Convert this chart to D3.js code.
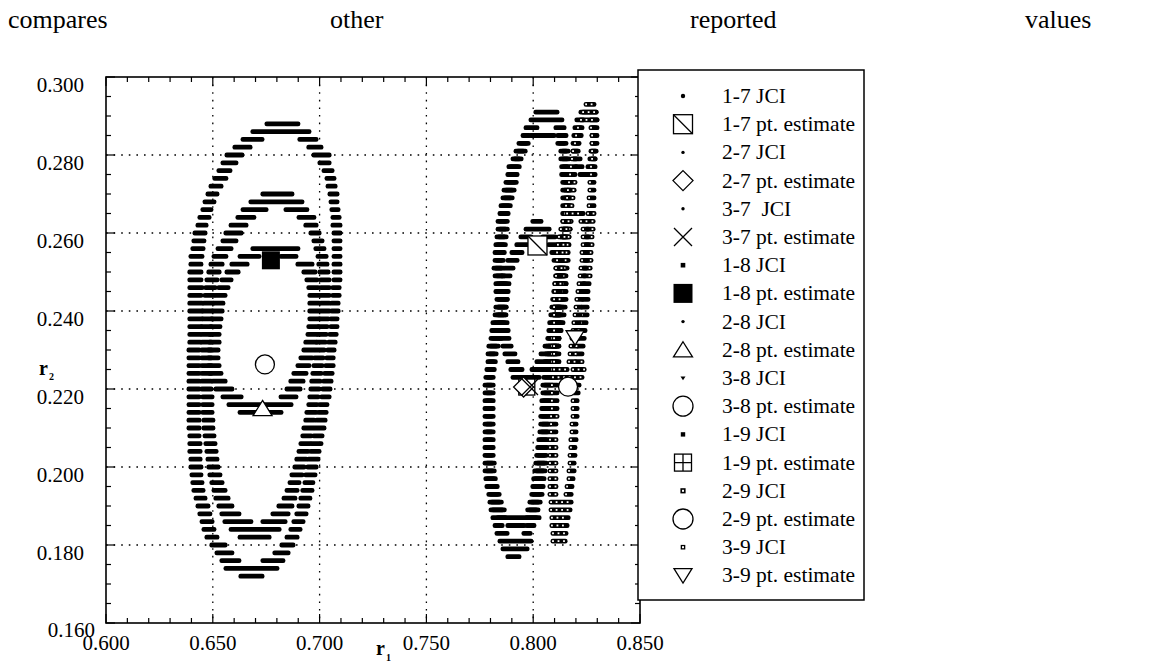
<!DOCTYPE html>
<html><head><meta charset="utf-8">
<script src="https://cdn.jsdelivr.net/npm/d3@7"></script>
<style>
body{margin:0;background:#fff;}
svg{display:block;font-family:"Liberation Serif","Times New Roman",serif;}
</style></head><body>
<svg id="chart" width="1151" height="666"></svg>
<script>
// ---------- text ----------
const captionWords = ["compares", "other", "reported", "values"];
const xTickValues = [0.600, 0.650, 0.700, 0.750, 0.800, 0.850];
const yTickValues = [0.160, 0.180, 0.200, 0.220, 0.240, 0.260, 0.280, 0.300];
const legendLabels = ["1-7 JCI", "1-7 pt. estimate", "2-7 JCI", "2-7 pt. estimate", "3-7  JCI", "3-7 pt. estimate",
  "1-8 JCI", "1-8 pt. estimate", "2-8 JCI", "2-8 pt. estimate", "3-8 JCI", "3-8 pt. estimate",
  "1-9 JCI", "1-9 pt. estimate", "2-9 JCI", "2-9 pt. estimate", "3-9 JCI", "3-9 pt. estimate"];

// ---------- joint confidence regions: rows of [r2, r1 from, r1 to, (r1 from, r1 to)] ----------
const jci_1_8 = [
 [0.288,0.6749,0.6903],[0.286,0.6683,0.6955],
 [0.284,0.6637,0.6735,0.6903,0.6988],[0.282,0.6599,0.6679,0.6945,0.7011],[0.280,0.6562,0.6641,0.6969,0.7049],
 [0.278,0.6543,0.6613,0.6997,0.7049],[0.276,0.6524,0.6585,0.7016,0.7063],[0.274,0.6505,0.6566,0.7030,0.7072],
 [0.272,0.6487,0.6543,0.7035,0.7077],[0.270,0.6473,0.6524,0.7044,0.7086],[0.268,0.6459,0.6510,0.7049,0.7086],
 [0.266,0.6449,0.6496,0.7053,0.7091],[0.264,0.6435,0.6487,0.7058,0.7096],[0.262,0.6426,0.6473,0.7058,0.7100],
 [0.260,0.6412,0.6468,0.7063,0.7100],[0.258,0.6407,0.6463,0.7063,0.7100],[0.256,0.6402,0.6459,0.7063,0.7100],
 [0.254,0.6393,0.6454,0.7063,0.7100],[0.252,0.6393,0.6449,0.7063,0.7100],[0.250,0.6388,0.6449,0.7063,0.7100],
 [0.248,0.6388,0.6449,0.7063,0.7100],[0.246,0.6388,0.6454,0.7058,0.7096],[0.244,0.6388,0.6449,0.7058,0.7096],
 [0.242,0.6388,0.6454,0.7053,0.7091],[0.240,0.6388,0.6454,0.7053,0.7091],[0.238,0.6388,0.6454,0.7049,0.7086],
 [0.236,0.6388,0.6449,0.7049,0.7086],[0.234,0.6388,0.6445,0.7044,0.7082],[0.232,0.6388,0.6445,0.7039,0.7077],
 [0.230,0.6384,0.6440,0.7035,0.7072],[0.228,0.6384,0.6440,0.7030,0.7068],[0.226,0.6384,0.6440,0.7025,0.7068],
 [0.224,0.6384,0.6440,0.7020,0.7063],[0.222,0.6384,0.6440,0.7016,0.7058],[0.220,0.6384,0.6440,0.7011,0.7053],
 [0.218,0.6384,0.6440,0.7006,0.7049],[0.216,0.6384,0.6440,0.6997,0.7039],[0.214,0.6384,0.6440,0.6992,0.7035],
 [0.212,0.6384,0.6440,0.6983,0.7030],[0.210,0.6384,0.6440,0.6973,0.7025],[0.208,0.6388,0.6440,0.6969,0.7016],
 [0.206,0.6388,0.6445,0.6959,0.7011],[0.204,0.6388,0.6445,0.6955,0.7002],[0.202,0.6393,0.6445,0.6945,0.6997],
 [0.200,0.6393,0.6449,0.6941,0.6988],[0.198,0.6398,0.6449,0.6931,0.6983],[0.196,0.6402,0.6454,0.6927,0.6973],
 [0.194,0.6407,0.6459,0.6917,0.6969],[0.192,0.6417,0.6468,0.6908,0.6959],[0.190,0.6426,0.6482,0.6899,0.6950],
 [0.188,0.6435,0.6491,0.6889,0.6941],[0.186,0.6445,0.6501,0.6875,0.6927],[0.184,0.6454,0.6510,0.6861,0.6913],
 [0.182,0.6468,0.6524,0.6843,0.6899],[0.180,0.6491,0.6562,0.6819,0.6880],[0.178,0.6515,0.6594,0.6786,0.6857],
 [0.176,0.6538,0.6627,0.6730,0.6833],[0.174,0.6557,0.6805],[0.172,0.6627,0.6735]
];
const jci_3_8 = [
 [0.270,0.6730,0.6875],[0.268,0.6674,0.6922],
 [0.266,0.6637,0.6754,0.6838,0.6945],[0.264,0.6613,0.6697,0.6899,0.6978],[0.262,0.6581,0.6660,0.6931,0.6988],
 [0.260,0.6557,0.6637,0.6955,0.7002],[0.258,0.6543,0.6613,0.6969,0.7016],[0.256,0.6520,0.6590,0.6978,0.7025],
 [0.254,0.6501,0.6566,0.6988,0.7035],[0.252,0.6487,0.6548,0.6992,0.7039],[0.250,0.6477,0.6534,0.6997,0.7044],
 [0.248,0.6468,0.6524,0.7002,0.7049],[0.246,0.6463,0.6515,0.7002,0.7049],[0.244,0.6459,0.6510,0.7002,0.7049],
 [0.242,0.6454,0.6505,0.7002,0.7049],[0.240,0.6449,0.6501,0.7002,0.7049],[0.238,0.6449,0.6501,0.6997,0.7044],
 [0.236,0.6445,0.6496,0.6992,0.7039],[0.234,0.6445,0.6496,0.6988,0.7035],[0.232,0.6445,0.6496,0.6983,0.7030],
 [0.230,0.6445,0.6496,0.6978,0.7025],[0.228,0.6445,0.6496,0.6973,0.7020],[0.226,0.6445,0.6496,0.6969,0.7016],
 [0.224,0.6445,0.6496,0.6964,0.7011],[0.222,0.6445,0.6496,0.6959,0.7006],[0.220,0.6445,0.6496,0.6955,0.7002],
 [0.218,0.6449,0.6501,0.6950,0.6997],[0.216,0.6449,0.6501,0.6945,0.6992],[0.214,0.6449,0.6501,0.6936,0.6988],
 [0.212,0.6454,0.6505,0.6931,0.6978],[0.210,0.6454,0.6505,0.6922,0.6973],[0.208,0.6459,0.6510,0.6917,0.6964],
 [0.206,0.6463,0.6515,0.6908,0.6959],[0.204,0.6468,0.6520,0.6899,0.6950],[0.202,0.6473,0.6524,0.6889,0.6941],
 [0.200,0.6477,0.6529,0.6880,0.6931],[0.198,0.6482,0.6538,0.6866,0.6922],[0.196,0.6491,0.6548,0.6857,0.6908],
 [0.194,0.6501,0.6562,0.6843,0.6899],[0.192,0.6510,0.6576,0.6829,0.6889],[0.190,0.6524,0.6594,0.6805,0.6875],
 [0.188,0.6538,0.6627,0.6777,0.6857],[0.186,0.6552,0.6683,0.6730,0.6843],[0.184,0.6581,0.6815],[0.182,0.6623,0.6768]
];
const jci_2_8 = [
 [0.256,0.6683,0.6903],[0.254,0.6623,0.6721,0.6815,0.6894],[0.252,0.6585,0.6665,0.6894,0.6969],
 [0.250,0.6562,0.6623,0.6922,0.6983],[0.248,0.6538,0.6590,0.6936,0.6992],[0.246,0.6524,0.6576,0.6945,0.6997],
 [0.244,0.6510,0.6562,0.6950,0.7002],[0.242,0.6501,0.6552,0.6950,0.7002],[0.240,0.6496,0.6548,0.6950,0.7002],
 [0.238,0.6491,0.6543,0.6950,0.7002],[0.236,0.6487,0.6538,0.6945,0.6997],[0.234,0.6482,0.6534,0.6941,0.6992],
 [0.232,0.6482,0.6534,0.6931,0.6988],[0.230,0.6477,0.6529,0.6922,0.6978],[0.228,0.6477,0.6529,0.6908,0.6969],
 [0.226,0.6477,0.6534,0.6894,0.6955],[0.224,0.6482,0.6543,0.6875,0.6941],[0.222,0.6496,0.6562,0.6861,0.6927],
 [0.220,0.6510,0.6594,0.6843,0.6913],[0.218,0.6543,0.6637,0.6815,0.6894],[0.216,0.6571,0.6871],[0.214,0.6623,0.6824]
];
const jci_1_7 = [
 [0.291,0.8008,0.8116],[0.289,0.7985,0.8139],
 [0.287,0.7962,0.8022,0.8102,0.8149],[0.285,0.7948,0.7985,0.8111,0.8158],[0.283,0.7929,0.7971,0.8121,0.8158],
 [0.281,0.7915,0.7957,0.8135,0.8168],[0.279,0.7901,0.7938,0.8135,0.8172],[0.277,0.7882,0.7929,0.8139,0.8172],
 [0.275,0.7877,0.7919,0.8139,0.8172],[0.273,0.7868,0.7915,0.8144,0.8177],[0.271,0.7859,0.7905,0.8144,0.8177],
 [0.269,0.7854,0.7896,0.8144,0.8177],[0.267,0.7845,0.7887,0.8144,0.8177],[0.265,0.7840,0.7877,0.8144,0.8177],
 [0.263,0.7831,0.7873,0.8144,0.8177],[0.261,0.7831,0.7873,0.8139,0.8177],[0.259,0.7826,0.7868,0.8135,0.8172],
 [0.257,0.7821,0.7864,0.8135,0.8172],[0.255,0.7817,0.7859,0.8130,0.8168],[0.253,0.7817,0.7854,0.8125,0.8168],
 [0.251,0.7812,0.7854,0.8121,0.8163],[0.249,0.7817,0.7859,0.8111,0.8158],[0.247,0.7821,0.7868,0.8107,0.8158],
 [0.245,0.7821,0.7868,0.8102,0.8154],[0.243,0.7826,0.7873,0.8097,0.8149],[0.241,0.7821,0.7868,0.8093,0.8144],
 [0.239,0.7817,0.7864,0.8088,0.8139],[0.237,0.7807,0.7859,0.8083,0.8135],[0.235,0.7802,0.7854,0.8079,0.8130],
 [0.233,0.7798,0.7845,0.8074,0.8125],[0.231,0.7788,0.7831,0.8069,0.8121],[0.229,0.7784,0.7821,0.8065,0.8111],
 [0.227,0.7784,0.7817,0.8060,0.8107],[0.225,0.7779,0.7812,0.8055,0.8102],[0.223,0.7774,0.7807,0.8055,0.8097],
 [0.221,0.7770,0.7807,0.8051,0.8093],[0.219,0.7770,0.7807,0.8051,0.8093],[0.217,0.7770,0.7807,0.8046,0.8088],
 [0.215,0.7770,0.7807,0.8046,0.8088],[0.213,0.7770,0.7807,0.8041,0.8083],[0.211,0.7770,0.7807,0.8041,0.8083],
 [0.209,0.7770,0.7807,0.8037,0.8079],[0.207,0.7770,0.7807,0.8032,0.8074],[0.205,0.7770,0.7807,0.8027,0.8069],
 [0.203,0.7770,0.7807,0.8022,0.8065],[0.201,0.7770,0.7812,0.8018,0.8065],[0.199,0.7770,0.7812,0.8013,0.8060],
 [0.197,0.7774,0.7817,0.8008,0.8055],[0.195,0.7779,0.7826,0.8004,0.8051],[0.193,0.7788,0.7835,0.7999,0.8046],
 [0.191,0.7793,0.7845,0.7990,0.8037],[0.189,0.7798,0.7859,0.7980,0.8027],[0.187,0.7807,0.7873,0.7966,0.8018],
 [0.185,0.7817,0.7859,0.7966,0.8008],[0.183,0.7826,0.7882,0.7952,0.7990],[0.181,0.7840,0.7994],
 [0.179,0.7854,0.7976],[0.177,0.7877,0.7938]
];
const jci_2_7 = [
 [0.263,0.7994,0.8041],[0.261,0.7962,0.8079],
 [0.259,0.7938,0.7994,0.8041,0.8107],[0.257,0.7919,0.7976,0.8069,0.8121],[0.255,0.7896,0.7952,0.8083,0.8135],
 [0.253,0.7877,0.7929,0.8093,0.8144],[0.251,0.7863,0.7910,0.8102,0.8149],[0.249,0.7849,0.7896,0.8107,0.8154],
 [0.247,0.7845,0.7891,0.8111,0.8158],[0.245,0.7840,0.7887,0.8111,0.8158],[0.243,0.7835,0.7882,0.8111,0.8158],
 [0.241,0.7835,0.7877,0.8107,0.8154],[0.239,0.7835,0.7877,0.8102,0.8149],[0.237,0.7835,0.7882,0.8093,0.8144],
 [0.235,0.7840,0.7887,0.8083,0.8135],[0.233,0.7845,0.7891,0.8069,0.8125],[0.231,0.7854,0.7901,0.8051,0.8111],
 [0.229,0.7863,0.7919,0.8032,0.8088],[0.227,0.7877,0.7933,0.8013,0.8065],[0.225,0.7891,0.7952,0.7990,0.8051],
 [0.223,0.7901,0.8032]
];
const jci_3_7 = [
 [0.285,0.7985,0.8102],
 [0.283,0.7939,0.7981,0.8111,0.8148],[0.281,0.7925,0.7967,0.8125,0.8158],[0.279,0.7911,0.7948,0.8125,0.8162],
 [0.277,0.7892,0.7939,0.8129,0.8162],[0.275,0.7887,0.7929,0.8129,0.8162],[0.273,0.7878,0.7925,0.8134,0.8167],
 [0.271,0.7869,0.7915,0.8134,0.8167],[0.269,0.7864,0.7906,0.8134,0.8167],[0.267,0.7855,0.7897,0.8134,0.8167],
 [0.265,0.7850,0.7887,0.8134,0.8167],[0.263,0.7841,0.7883,0.8134,0.8167],[0.261,0.7841,0.7883,0.8129,0.8167],
 [0.259,0.7836,0.7878,0.8125,0.8162],[0.257,0.7831,0.7874,0.8125,0.8162],[0.255,0.7827,0.7869,0.8120,0.8158],
 [0.253,0.7827,0.7864,0.8115,0.8158],[0.251,0.7822,0.7864,0.8111,0.8153],[0.249,0.7827,0.7869,0.8101,0.8148],
 [0.247,0.7831,0.7878,0.8097,0.8148],[0.245,0.7831,0.7878,0.8092,0.8144],[0.243,0.7836,0.7883,0.8087,0.8139],
 [0.241,0.7831,0.7878,0.8083,0.8134],[0.239,0.7827,0.7874,0.8078,0.8129],[0.237,0.7817,0.7869,0.8073,0.8125],
 [0.235,0.7812,0.7864,0.8069,0.8120],[0.233,0.7808,0.7855,0.8064,0.8115],[0.231,0.7798,0.7841,0.8059,0.8111],
 [0.229,0.7794,0.7831,0.8055,0.8101],[0.227,0.7794,0.7827,0.8050,0.8097],[0.225,0.7789,0.7822,0.8045,0.8092],
 [0.223,0.7784,0.7817,0.8045,0.8087],[0.221,0.7780,0.7817,0.8041,0.8083],[0.219,0.7780,0.7817,0.8041,0.8083],
 [0.217,0.7780,0.7817,0.8036,0.8078],[0.215,0.7780,0.7817,0.8036,0.8078],[0.213,0.7780,0.7817,0.8031,0.8073],
 [0.211,0.7780,0.7817,0.8031,0.8073],[0.209,0.7780,0.7817,0.8027,0.8069],[0.207,0.7780,0.7817,0.8022,0.8064],
 [0.205,0.7780,0.7817,0.8017,0.8059],[0.203,0.7780,0.7817,0.8012,0.8055],[0.201,0.7780,0.7822,0.8008,0.8055],
 [0.199,0.7780,0.7822,0.8003,0.8050],[0.197,0.7784,0.7827,0.7998,0.8045],[0.195,0.7789,0.7836,0.7994,0.8041],
 [0.193,0.7798,0.7845,0.7989,0.8036],[0.191,0.7803,0.7855,0.7980,0.8027],[0.189,0.7808,0.7869,0.7970,0.8017],
 [0.187,0.7831,0.8032],[0.185,0.7877,0.7962]
];
const jci_1_9 = [
 [0.291,0.8219,0.8299],[0.289,0.8200,0.8238,0.8266,0.8303],[0.287,0.8191,0.8224,0.8271,0.8303],
 [0.285,0.8186,0.8219,0.8271,0.8303],[0.283,0.8182,0.8215,0.8271,0.8303],[0.281,0.8182,0.8215,0.8266,0.8299],
 [0.279,0.8186,0.8224,0.8261,0.8294],[0.277,0.8196,0.8233,0.8252,0.8285],[0.275,0.8215,0.8271]
];
const jci_2_9 = [
 [0.293,0.8243,0.8289],[0.291,0.8229,0.8299],[0.289,0.8219,0.8303],
 [0.287,0.8205,0.8233,0.8266,0.8294],[0.285,0.8196,0.8229,0.8271,0.8294],[0.283,0.8191,0.8219,0.8271,0.8294],
 [0.281,0.8182,0.8210,0.8271,0.8294],[0.279,0.8177,0.8205,0.8271,0.8294],[0.277,0.8172,0.8205,0.8266,0.8294],
 [0.275,0.8168,0.8200,0.8266,0.8294],[0.273,0.8163,0.8200,0.8261,0.8289],[0.271,0.8158,0.8196,0.8261,0.8289],
 [0.269,0.8154,0.8191,0.8257,0.8289],[0.267,0.8149,0.8186,0.8257,0.8289],[0.265,0.8144,0.8182,0.8252,0.8289],
 [0.263,0.8144,0.8182,0.8247,0.8285],[0.261,0.8139,0.8177,0.8247,0.8285],[0.259,0.8135,0.8172,0.8243,0.8280],
 [0.257,0.8130,0.8168,0.8243,0.8280],[0.255,0.8125,0.8163,0.8238,0.8275],[0.253,0.8121,0.8158,0.8238,0.8275],
 [0.251,0.8116,0.8154,0.8233,0.8271],[0.249,0.8111,0.8149,0.8233,0.8271],[0.247,0.8107,0.8144,0.8233,0.8266],
 [0.245,0.8102,0.8139,0.8229,0.8261],[0.243,0.8097,0.8135,0.8229,0.8261],[0.241,0.8093,0.8130,0.8224,0.8257],
 [0.239,0.8093,0.8130,0.8224,0.8257],[0.237,0.8088,0.8125,0.8219,0.8252],[0.235,0.8088,0.8125,0.8215,0.8247],
 [0.233,0.8083,0.8121,0.8210,0.8243],[0.231,0.8083,0.8121,0.8205,0.8238],[0.229,0.8083,0.8116,0.8200,0.8233],
 [0.227,0.8083,0.8116,0.8196,0.8233],[0.225,0.8083,0.8116,0.8191,0.8229],[0.223,0.8083,0.8116,0.8191,0.8224],
 [0.221,0.8083,0.8116,0.8186,0.8219],[0.219,0.8083,0.8116,0.8182,0.8215],[0.217,0.8083,0.8116,0.8182,0.8210],
 [0.215,0.8083,0.8116,0.8182,0.8210],[0.213,0.8079,0.8116,0.8182,0.8210],[0.211,0.8079,0.8111,0.8177,0.8205],
 [0.209,0.8079,0.8111,0.8177,0.8205],[0.207,0.8074,0.8111,0.8172,0.8205],[0.205,0.8074,0.8111,0.8172,0.8200],
 [0.203,0.8074,0.8111,0.8168,0.8200],[0.201,0.8074,0.8111,0.8168,0.8196],[0.199,0.8074,0.8111,0.8163,0.8196],
 [0.197,0.8074,0.8111,0.8163,0.8191],[0.195,0.8074,0.8111,0.8154,0.8186],[0.193,0.8074,0.8111,0.8149,0.8182],
 [0.191,0.8079,0.8182],[0.189,0.8079,0.8177],[0.187,0.8083,0.8168],[0.185,0.8083,0.8163],
 [0.183,0.8088,0.8158],[0.181,0.8088,0.8154]
];
const jci_3_9 = [
 [0.265,0.8154,0.8238],[0.263,0.8135,0.8172,0.8219,0.8257],[0.261,0.8125,0.8163,0.8229,0.8261],
 [0.259,0.8116,0.8154,0.8229,0.8261],[0.257,0.8111,0.8149,0.8229,0.8261],[0.255,0.8107,0.8144,0.8224,0.8257],
 [0.253,0.8107,0.8139,0.8224,0.8257],[0.251,0.8102,0.8139,0.8219,0.8252],[0.249,0.8102,0.8135,0.8215,0.8247],
 [0.247,0.8097,0.8135,0.8210,0.8243],[0.245,0.8097,0.8130,0.8205,0.8238],[0.243,0.8093,0.8130,0.8200,0.8233],
 [0.241,0.8093,0.8125,0.8196,0.8229],[0.239,0.8093,0.8125,0.8191,0.8224],[0.237,0.8093,0.8125,0.8186,0.8219],
 [0.235,0.8093,0.8125,0.8182,0.8219],[0.233,0.8093,0.8125,0.8177,0.8215],[0.231,0.8093,0.8125,0.8172,0.8210],
 [0.229,0.8093,0.8125,0.8168,0.8205],[0.227,0.8093,0.8125,0.8163,0.8200],[0.225,0.8093,0.8163,0.8182,0.8243],
 [0.223,0.8088,0.8233]
];

// ---------- point estimates [r1, r2] ----------
const pt_1_7 = [0.8020, 0.2568];
const pt_2_7 = [0.7955, 0.2205];
const pt_3_7 = [0.7985, 0.2205];
const pt_1_8 = [0.6772, 0.2530];
const pt_2_8 = [0.6733, 0.2150];
const pt_3_8 = [0.6744, 0.2263];
const pt_1_9 = [0.7970, 0.2205];
const pt_2_9 = [0.8163, 0.2206];
const pt_3_9 = [0.8196, 0.2332];

// ---------- layout ----------
const svg = d3.select("#chart");
const plot = {left: 106, right: 640, top: 77, bottom: 623};
const x = d3.scaleLinear().domain([0.6, 0.85]).range([plot.left, plot.right]);
const y = d3.scaleLinear().domain([0.16, 0.30]).range([plot.bottom, plot.top]);

// caption line across the page top
const captionX = [8, 330, 690, 1025];
svg.append("g").selectAll("text").data(captionWords).join("text")
  .attr("x", (d, i) => captionX[i]).attr("y", 28)
  .attr("font-size", 26).text(d => d);

// grid
const grid = svg.append("g").attr("stroke", "#000").attr("stroke-width", 1.3).attr("stroke-dasharray", "1.6,6");
grid.selectAll(".gx").data(xTickValues.slice(1, -1)).join("line")
  .attr("x1", d => x(d)).attr("x2", d => x(d)).attr("y1", plot.top).attr("y2", plot.bottom);
grid.selectAll(".gy").data(yTickValues.slice(1, -1)).join("line")
  .attr("y1", d => y(d)).attr("y2", d => y(d)).attr("x1", plot.left).attr("x2", plot.right);

// minor ticks (inside)
const ticks = svg.append("g").attr("stroke", "#000").attr("stroke-width", 1.2);
const xMinor = d3.range(0, 26).map(i => 0.6 + i * 0.01);
const yMinor = d3.range(0, 29).map(i => 0.16 + i * 0.005);
xMinor.forEach((v, i) => {
  const len = i % 5 === 0 ? 9 : 5;
  ticks.append("line").attr("x1", x(v)).attr("x2", x(v)).attr("y1", plot.bottom).attr("y2", plot.bottom - len);
  ticks.append("line").attr("x1", x(v)).attr("x2", x(v)).attr("y1", plot.top).attr("y2", plot.top + len);
});
yMinor.forEach((v, i) => {
  const len = i % 4 === 0 ? 9 : 5;
  ticks.append("line").attr("y1", y(v)).attr("y2", y(v)).attr("x1", plot.left).attr("x2", plot.left + len);
  ticks.append("line").attr("y1", y(v)).attr("y2", y(v)).attr("x1", plot.right).attr("x2", plot.right - len);
});

// frame
svg.append("rect").attr("x", plot.left).attr("y", plot.top)
  .attr("width", plot.right - plot.left).attr("height", plot.bottom - plot.top)
  .attr("fill", "none").attr("stroke", "#000").attr("stroke-width", 1.6);

// tick labels
svg.append("g").selectAll("text").data(xTickValues).join("text")
  .attr("x", d => x(d)).attr("y", 650).attr("text-anchor", "middle").attr("font-size", 21)
  .text(d => d3.format(".3f")(d));
svg.append("g").selectAll("text").data(yTickValues).join("text")
  .attr("x", (d, i) => i === 0 ? 95 : 84).attr("y", (d, i) => y(d) + (i === 0 ? 14 : 15))
  .attr("text-anchor", "end").attr("font-size", 21)
  .text(d => d3.format(".3f")(d));

// axis titles
const xt = svg.append("text").attr("x", 376).attr("y", 655).attr("font-weight", "bold").attr("font-size", 20);
xt.append("tspan").text("r");
xt.append("tspan").attr("font-size", 10).attr("dx", 1).attr("dy", 6).text("1");
const yt = svg.append("text").attr("x", 39).attr("y", 375).attr("font-weight", "bold").attr("font-size", 20);
yt.append("tspan").text("r");
yt.append("tspan").attr("font-size", 10).attr("dx", 1).attr("dy", 5).text("2");

// ---------- confidence-region marks ----------
const marks = svg.append("g");
function drawRegion(rows, hollow) {
  const segs = [];
  rows.forEach(r => {
    for (let i = 1; i + 1 < r.length; i += 2) segs.push({r2: r[0], a: r[i], b: r[i + 1]});
  });
  const g = marks.append("g");
  g.selectAll("rect").data(segs).join("rect")
    .attr("x", d => x(d.a) - 1.5).attr("width", d => x(d.b) - x(d.a) + 3)
    .attr("y", d => y(d.r2) - 2.4).attr("height", 4.8).attr("rx", 2.2).attr("fill", "#000");
  if (hollow) {
    const holes = [];
    segs.forEach(d => {
      const x0 = x(d.a) + 1, x1 = x(d.b) - 1;
      for (let p = x0; p <= x1 + 0.01; p += 5.5) holes.push({px: p, r2: d.r2});
    });
    g.selectAll("rect.hole").data(holes).join("rect").attr("class", "hole")
      .attr("x", d => d.px - 0.9).attr("y", d => y(d.r2) - 0.9).attr("width", 1.8).attr("height", 1.8).attr("fill", "#fff");
  }
}
drawRegion(jci_1_8, false);
drawRegion(jci_3_8, false);
drawRegion(jci_2_8, false);
drawRegion(jci_1_7, false);
drawRegion(jci_3_7, false);
drawRegion(jci_2_7, false);
drawRegion(jci_1_9, false);
drawRegion(jci_2_9, true);
drawRegion(jci_3_9, true);

// ---------- point-estimate symbols ----------
function symbolAt(g, kind, cx, cy, s) {
  const h = s / 2;
  const sw = 1.3;
  switch (kind) {
    case "squareDiag":
      g.append("rect").attr("x", cx - h).attr("y", cy - h).attr("width", s).attr("height", s).attr("fill", "#fff").attr("stroke", "#000").attr("stroke-width", sw);
      g.append("line").attr("x1", cx - h).attr("y1", cy - h).attr("x2", cx + h).attr("y2", cy + h).attr("stroke", "#000").attr("stroke-width", sw);
      break;
    case "diamond":
      g.append("path").attr("d", `M${cx},${cy - h - 1}L${cx + h + 1},${cy}L${cx},${cy + h + 1}L${cx - h - 1},${cy}Z`).attr("fill", "#fff").attr("stroke", "#000").attr("stroke-width", sw);
      break;
    case "cross":
      g.append("path").attr("d", `M${cx - h},${cy - h}L${cx + h},${cy + h}M${cx + h},${cy - h}L${cx - h},${cy + h}`).attr("stroke", "#000").attr("stroke-width", sw);
      break;
    case "filledSquare":
      g.append("rect").attr("x", cx - h).attr("y", cy - h).attr("width", s).attr("height", s).attr("fill", "#000");
      break;
    case "triUp":
      g.append("path").attr("d", `M${cx},${cy - h * 0.85}L${cx + h},${cy + h * 0.75}L${cx - h},${cy + h * 0.75}Z`).attr("fill", "#fff").attr("stroke", "#000").attr("stroke-width", sw);
      break;
    case "triDown":
      g.append("path").attr("d", `M${cx - h},${cy - h * 0.75}L${cx + h},${cy - h * 0.75}L${cx},${cy + h * 0.85}Z`).attr("fill", "#fff").attr("stroke", "#000").attr("stroke-width", sw);
      break;
    case "circle":
      g.append("circle").attr("cx", cx).attr("cy", cy).attr("r", h).attr("fill", "#fff").attr("stroke", "#000").attr("stroke-width", sw);
      break;
    case "squarePlus":
      g.append("rect").attr("x", cx - h).attr("y", cy - h).attr("width", s).attr("height", s).attr("fill", "#fff").attr("stroke", "#000").attr("stroke-width", sw);
      g.append("path").attr("d", `M${cx - h},${cy}L${cx + h},${cy}M${cx},${cy - h}L${cx},${cy + h}`).attr("stroke", "#000").attr("stroke-width", sw);
      break;
    case "dot":
      g.append("circle").attr("cx", cx).attr("cy", cy).attr("r", s / 2).attr("fill", "#000");
      break;
    case "smallSquare":
      g.append("rect").attr("x", cx - h).attr("y", cy - h).attr("width", s).attr("height", s).attr("fill", "#000");
      break;
    case "smallTri":
      g.append("path").attr("d", `M${cx - h},${cy - h * 0.6}L${cx + h},${cy - h * 0.6}L${cx},${cy + h * 0.9}Z`).attr("fill", "#000");
      break;
    case "hollowSquare":
      g.append("rect").attr("x", cx - h).attr("y", cy - h).attr("width", s).attr("height", s).attr("fill", "#000");
      g.append("rect").attr("x", cx - 1).attr("y", cy - 1).attr("width", 2).attr("height", 2).attr("fill", "#fff");
      break;
  }
}
const ptG = svg.append("g");
const estimates = [
  [pt_1_9, "squarePlus", 16], [pt_2_7, "diamond", 18], [pt_3_7, "cross", 16],
  [pt_1_7, "squareDiag", 19], [pt_1_8, "filledSquare", 18], [pt_2_8, "triUp", 19],
  [pt_3_8, "circle", 19], [pt_2_9, "circle", 19], [pt_3_9, "triDown", 18]
];
estimates.forEach(([p, kind, s]) => symbolAt(ptG, kind, x(p[0]), y(p[1]), s));

// ---------- legend ----------
const legendSymbols = [["dot", 4.4], ["squareDiag", 19], ["dot", 3.4], ["diamond", 18], ["dot", 3.4], ["cross", 18],
  ["smallSquare", 4.6], ["filledSquare", 19], ["dot", 3.4], ["triUp", 19], ["smallTri", 5], ["circle", 20],
  ["smallSquare", 4.4], ["squarePlus", 17], ["hollowSquare", 5.2], ["circle", 20], ["hollowSquare", 4.6], ["triDown", 18]];
const lg = svg.append("g");
lg.append("rect").attr("x", 638).attr("y", 70).attr("width", 226).attr("height", 530)
  .attr("fill", "#fff").attr("stroke", "#000").attr("stroke-width", 1.5);
legendLabels.forEach((label, i) => {
  const cy = 96 + i * 28.2;
  symbolAt(lg, legendSymbols[i][0], 683, cy, legendSymbols[i][1]);
  lg.append("text").attr("x", 722).attr("y", cy + 7).attr("font-size", 21.5)
    .style("white-space", "pre").text(label);
});
</script>
</body></html>
